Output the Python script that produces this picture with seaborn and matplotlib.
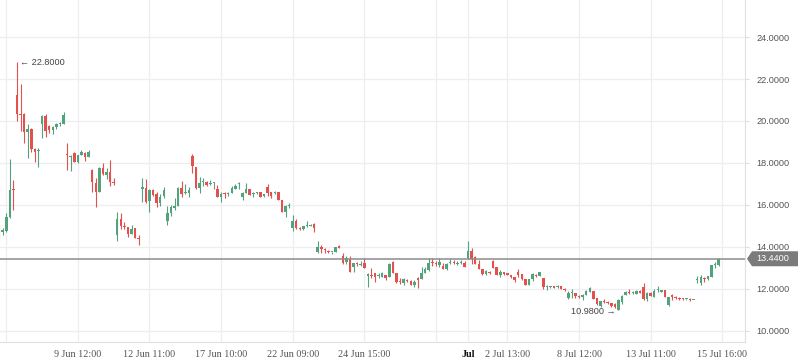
import matplotlib
matplotlib.use("Agg")
import matplotlib.pyplot as plt
from matplotlib.patches import Polygon
import pandas as pd
import seaborn as sns

# ---------------- data ----------------
open_ = [15.05, 14.70, 14.76, 15.43, 16.75, 21.24, 20.35, 20.33, 19.48, 19.62,
         18.67, 18.55, 19.86, 20.24, 19.76, 19.57, 19.71, 19.84, 19.86, 18.45,
         18.30, 18.48, 18.05, 18.38, 18.48, 18.29, 17.67, 17.05, 16.62, 17.76,
         17.43, 17.57, 17.07, 14.57, 15.33, 14.98, 14.95, 14.62, 14.90, 14.45,
         16.78, 16.80, 16.19, 16.71, 16.52, 16.10, 16.43, 15.24, 15.62, 15.88,
         15.95, 16.81, 16.55, 16.57, 18.33, 17.81, 16.81, 17.08, 17.10, 17.02,
         17.05, 16.76, 16.38, 16.55, 16.50, 16.57, 16.76, 17.00, 16.38, 16.57,
         16.76, 16.50, 16.55, 16.62, 16.45, 16.86, 16.62, 16.55, 16.60, 16.24,
         15.67, 15.95, 14.90, 15.24, 14.88, 14.86, 14.98, 15.02, 15.10, 13.76,
         14.00, 13.88, 13.80, 13.74, 13.76, 14.05, 13.57, 13.29, 13.43, 13.05,
         13.22, 13.14, 13.24, 12.60, 12.69, 12.76, 12.64, 12.57, 12.67, 12.57,
         13.29, 12.76, 12.35, 12.29, 12.43, 12.40, 12.19, 12.52, 12.48, 12.76,
         12.90, 13.26, 13.22, 13.14, 13.10, 12.95, 13.22, 13.26, 13.20, 13.22,
         13.24, 13.48, 13.81, 13.52, 13.19, 12.95, 12.71, 12.78, 13.33, 13.05,
         12.67, 12.81, 12.74, 12.67, 12.57, 12.81, 12.71, 12.48, 12.19, 12.48,
         12.67, 12.64, 12.52, 12.08, 12.08, 12.10, 12.10, 12.12, 12.02, 11.57,
         11.79, 11.81, 11.67, 11.62, 11.71, 11.86, 11.90, 11.55, 11.20, 11.42,
         11.37, 11.33, 11.30, 11.00, 11.38, 11.71, 11.86, 11.80, 11.76, 11.90,
         12.10, 11.52, 11.81, 11.62, 11.93, 11.86, 11.95, 11.24, 11.71, 11.60,
         11.55, 11.55, 11.50, 11.52, 11.48, 12.44, 12.30, 12.50, 12.46, 12.57,
         13.12, 13.14]
high = [15.10, 14.90, 15.60, 18.19, 17.20, 22.80, 21.76, 20.40, 19.86, 19.65,
        18.70, 18.71, 20.30, 20.33, 19.80, 19.75, 19.90, 19.95, 20.43, 18.95,
        18.38, 18.50, 18.40, 18.62, 18.50, 18.60, 17.70, 17.29, 17.80, 18.00,
        17.76, 18.14, 17.29, 15.67, 15.62, 15.19, 14.97, 15.05, 14.92, 14.57,
        17.29, 17.24, 16.75, 16.76, 16.62, 16.50, 16.86, 15.95, 16.00, 16.33,
        16.86, 17.14, 17.00, 16.86, 18.43, 17.82, 17.33, 17.29, 17.12, 17.20,
        17.10, 16.95, 16.62, 16.60, 16.62, 16.90, 17.00, 17.10, 16.60, 17.05,
        16.78, 16.62, 16.62, 16.64, 16.50, 17.00, 16.64, 16.67, 16.62, 16.26,
        16.00, 16.10, 15.52, 15.33, 14.95, 15.02, 15.24, 15.10, 15.12, 14.29,
        14.10, 13.95, 13.86, 13.78, 14.02, 14.10, 13.71, 13.57, 13.57, 13.24,
        13.29, 13.33, 13.48, 12.75, 13.00, 12.77, 12.76, 12.81, 12.68, 13.24,
        13.33, 12.77, 12.50, 12.52, 12.48, 12.41, 12.43, 12.57, 13.05, 13.05,
        13.48, 13.48, 13.33, 13.48, 13.24, 13.24, 13.43, 13.38, 13.33, 13.38,
        13.33, 14.29, 13.95, 13.57, 13.38, 12.96, 12.90, 12.86, 13.38, 13.06,
        12.90, 12.82, 12.76, 12.68, 12.58, 12.95, 12.72, 12.49, 12.48, 12.76,
        12.71, 12.82, 12.53, 12.19, 12.12, 12.12, 12.19, 12.13, 12.03, 11.90,
        12.00, 11.82, 11.71, 11.76, 11.95, 12.10, 11.91, 11.57, 11.45, 11.50,
        11.43, 11.35, 11.33, 11.52, 11.71, 11.90, 12.00, 11.90, 11.95, 11.95,
        12.29, 11.86, 11.86, 12.00, 12.14, 11.97, 11.96, 11.62, 11.76, 11.67,
        11.60, 11.57, 11.54, 11.57, 11.48, 12.62, 12.67, 12.57, 12.62, 13.14,
        13.29, 13.48]
low = [14.33, 14.55, 14.70, 15.40, 15.76, 20.00, 19.52, 18.95, 18.24, 18.50,
       18.05, 17.81, 19.19, 19.24, 19.43, 19.38, 19.60, 19.76, 19.86, 17.67,
       17.62, 18.05, 18.00, 18.38, 18.10, 18.29, 16.62, 15.90, 16.62, 17.43,
       17.24, 16.90, 16.95, 14.29, 14.86, 14.86, 14.48, 14.60, 14.43, 14.10,
       16.14, 16.10, 15.67, 16.43, 15.90, 15.95, 16.33, 15.05, 15.48, 15.76,
       15.95, 16.38, 16.52, 16.38, 17.52, 16.76, 16.57, 16.90, 16.90, 16.95,
       16.76, 16.38, 16.14, 16.33, 16.45, 16.57, 16.76, 16.76, 16.24, 16.57,
       16.48, 16.40, 16.50, 16.38, 16.38, 16.45, 16.33, 16.50, 16.24, 15.67,
       15.43, 15.86, 14.76, 14.88, 14.80, 14.80, 14.95, 14.98, 14.71, 13.71,
       13.71, 13.71, 13.70, 13.67, 13.74, 13.93, 13.20, 13.20, 12.81, 12.81,
       13.10, 13.10, 13.00, 12.10, 12.52, 12.33, 12.52, 12.57, 12.43, 12.57,
       12.76, 12.29, 12.24, 12.19, 12.33, 12.20, 12.10, 12.05, 12.48, 12.76,
       12.88, 13.10, 13.10, 13.05, 12.95, 12.90, 13.19, 13.19, 13.14, 13.19,
       13.05, 13.45, 13.19, 13.19, 12.95, 12.67, 12.67, 12.71, 13.00, 12.67,
       12.57, 12.67, 12.66, 12.52, 12.33, 12.57, 12.43, 12.19, 12.19, 12.38,
       12.57, 12.64, 12.00, 11.95, 12.05, 12.05, 12.05, 12.00, 11.90, 11.52,
       11.57, 11.57, 11.57, 11.48, 11.70, 11.85, 11.52, 11.24, 11.15, 11.33,
       11.28, 11.15, 11.10, 10.98, 11.30, 11.70, 11.76, 11.76, 11.74, 11.80,
       11.48, 11.43, 11.66, 11.60, 11.86, 11.85, 11.62, 11.19, 11.48, 11.50,
       11.48, 11.48, 11.48, 11.45, 11.48, 12.29, 12.19, 12.33, 12.43, 12.55,
       13.00, 13.10]
close = [14.71, 14.80, 15.43, 16.71, 16.70, 20.33, 20.30, 19.48, 19.62, 18.67,
         18.52, 18.60, 20.24, 19.52, 19.57, 19.71, 19.86, 19.88, 20.29, 18.40,
         18.35, 18.05, 18.38, 18.52, 18.29, 18.52, 17.10, 16.62, 17.76, 17.48,
         17.57, 17.10, 17.03, 15.33, 15.00, 14.93, 14.62, 14.86, 14.43, 14.40,
         16.84, 16.15, 16.71, 16.48, 16.10, 16.38, 16.71, 15.62, 15.90, 15.92,
         16.81, 16.52, 16.60, 16.71, 17.86, 16.81, 17.05, 17.12, 16.95, 17.07,
         17.05, 16.38, 16.52, 16.50, 16.55, 16.81, 16.90, 17.05, 16.57, 16.76,
         16.48, 16.55, 16.60, 16.38, 16.48, 16.57, 16.43, 16.60, 16.24, 15.67,
         15.95, 16.00, 15.24, 14.90, 14.84, 15.00, 15.02, 15.05, 14.90, 14.00,
         13.90, 13.84, 13.76, 13.76, 14.00, 13.95, 13.24, 13.48, 12.81, 13.24,
         13.18, 13.18, 13.00, 12.71, 12.64, 12.57, 12.69, 12.76, 12.52, 13.19,
         12.76, 12.33, 12.31, 12.48, 12.38, 12.20, 12.33, 12.43, 12.76, 12.95,
         13.24, 13.22, 13.18, 13.29, 12.95, 13.19, 13.26, 13.22, 13.24, 13.26,
         13.05, 13.81, 13.43, 13.19, 12.95, 12.71, 12.86, 12.74, 13.00, 12.67,
         12.81, 12.71, 12.69, 12.57, 12.43, 12.67, 12.48, 12.19, 12.48, 12.71,
         12.62, 12.81, 12.10, 12.12, 12.10, 12.07, 12.14, 12.00, 11.95, 11.81,
         11.83, 11.67, 11.62, 11.71, 11.90, 12.05, 11.52, 11.29, 11.43, 11.38,
         11.33, 11.19, 11.14, 11.48, 11.67, 11.86, 11.81, 11.84, 11.90, 11.81,
         11.52, 11.81, 11.67, 11.90, 11.97, 11.95, 11.62, 11.62, 11.62, 11.55,
         11.52, 11.50, 11.52, 11.48, 11.48, 12.48, 12.56, 12.46, 12.60, 13.14,
         13.17, 13.44]

tick_pos = [2, 22, 42, 62, 82, 102, 122, 131, 142, 162, 182, 202]
tick_labels = ["", "9 Jun 12:00", "12 Jun 11:00", "17 Jun 10:00", "22 Jun 09:00",
               "24 Jun 15:00", "", "Jul", "2 Jul 13:00", "8 Jul 12:00",
               "13 Jul 11:00", "15 Jul 16:00"]
y_ticks = [10, 12, 14, 16, 18, 20, 22, 24]
last_price = 13.44
max_idx, max_price = 5, 22.80
min_idx, min_price = 173, 10.98

# ---------------- styling ----------------
UP = "#53a27e"
DOWN = "#e2514c"
FLAT = "#8a8a8a"
GRID = "#eceef1"
AXIS = "#dcdfe3"
TXT = "#555555"

sns.set_theme(style="white")
plt.rcParams["font.family"] = ["Liberation Sans", "DejaVu Sans"]

df = pd.DataFrame({"idx": range(len(open_)), "open": open_, "high": high,
                   "low": low, "close": close})
df["color"] = [UP if c > o else (DOWN if c < o else FLAT)
               for o, c in zip(df["open"], df["close"])]
df["bottom"] = df[["open", "close"]].min(axis=1)
df["height"] = (df["close"] - df["open"]).abs().clip(lower=0.05)

W, H = 798, 363
fig = plt.figure(figsize=(W / 100, H / 100), dpi=100)
ax = fig.add_axes([0, 21 / H, 745 / W, 342 / H])

ax.set_xlim(0.25, 208.35)
ax.set_ylim(9.476, 25.762)

# grid
for t in tick_pos:
    ax.axvline(t, color=GRID, lw=0.9, zorder=0)
for t in y_ticks:
    ax.axhline(t, color=GRID, lw=0.9, zorder=0)

# candles
ax.vlines(df["idx"], df["low"], df["high"], colors=df["color"], lw=0.8, zorder=2)
ax.bar(df["idx"], df["height"], bottom=df["bottom"], width=0.7,
       color=df["color"], linewidth=0, zorder=3)

# last price line
ax.axhline(last_price, color="#8c8c8c", lw=1.1, zorder=4)

# axes / ticks
ax.yaxis.tick_right()
ax.set_yticks(y_ticks)
ax.set_yticklabels([f"{v:.4f}" for v in y_ticks])
ax.set_xticks(tick_pos)
ax.set_xticklabels(tick_labels)
ax.tick_params(axis="y", length=3, width=0.8, color=AXIS, pad=5,
               labelsize=6.6, labelcolor=TXT)
ax.tick_params(axis="x", length=3, width=0.8, color=AXIS, pad=3,
               labelsize=7.3, labelcolor=TXT)
for lab in ax.get_xticklabels():
    lab.set_family(["Liberation Serif", "DejaVu Serif"])
    if lab.get_text() == "Jul":
        lab.set_fontweight("bold")
        lab.set_color("#111111")
for s in ["top", "left"]:
    ax.spines[s].set_visible(False)
for s in ["right", "bottom"]:
    ax.spines[s].set_color(AXIS)
    ax.spines[s].set_linewidth(0.8)

# max / min annotations
ax.annotate("\u2190 22.8000", xy=(max_idx, max_price), xytext=(2, 0),
            textcoords="offset points", ha="left", va="center",
            fontsize=6.6, color="#444444", family=["Liberation Sans", "DejaVu Sans"])
ax.annotate("10.9800 \u2192", xy=(min_idx, min_price), xytext=(-2, -1),
            textcoords="offset points", ha="right", va="center",
            fontsize=6.6, color="#444444", family=["Liberation Sans", "DejaVu Sans"])

# last price tag on the right axis
yp = ax.transData.transform((0, last_price))[1]
y_fig = yp / fig.bbox.height
hh = 7.5 / H
pts = [(747 / W, y_fig), (752 / W, y_fig + hh), (1.0, y_fig + hh),
       (1.0, y_fig - hh), (752 / W, y_fig - hh)]
fig.patches.append(Polygon(pts, closed=True, transform=fig.transFigure,
                           facecolor="#7b7b7b", edgecolor="none", zorder=5))
fig.text(756 / W, y_fig, "13.4400", color="white", fontsize=6.6,
         ha="left", va="center", zorder=6)

fig.savefig("out.png", dpi=100)
